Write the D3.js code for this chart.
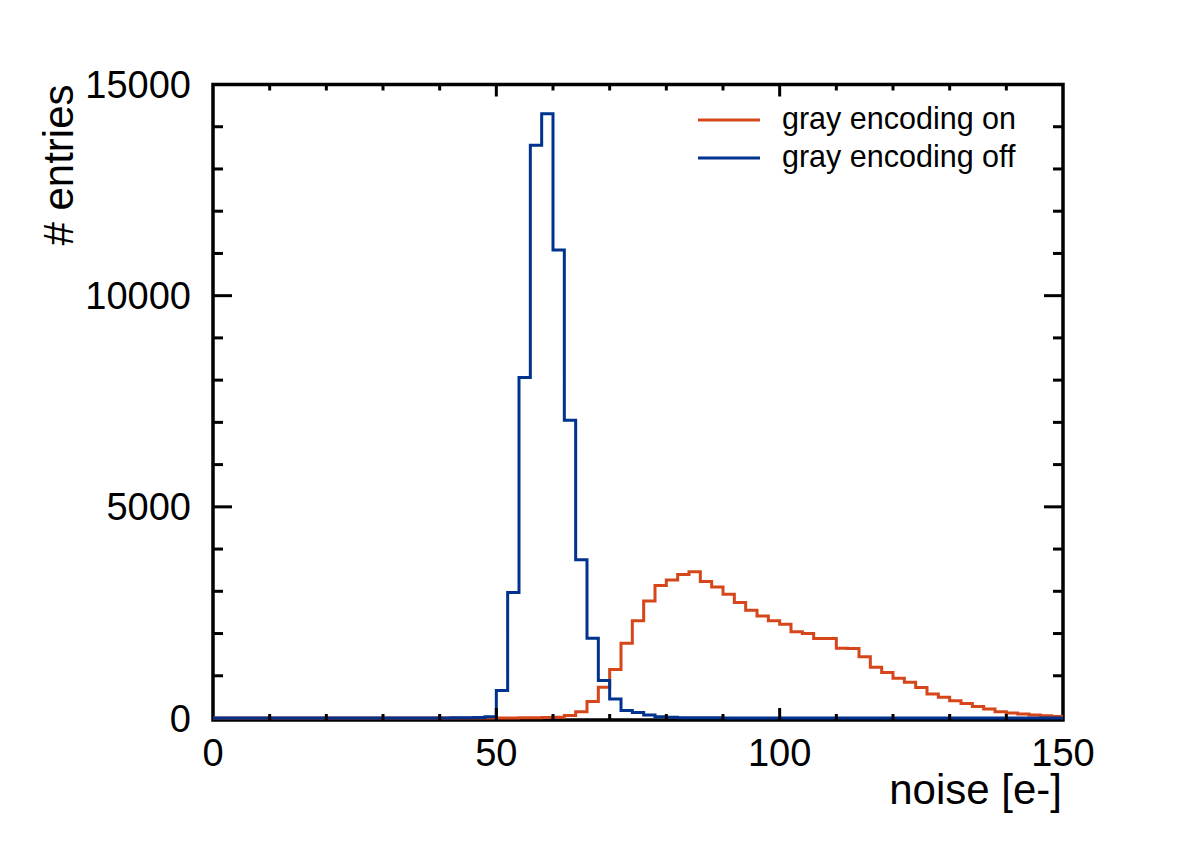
<!DOCTYPE html>
<html>
<head>
<meta charset="utf-8">
<script src="https://cdn.jsdelivr.net/npm/d3@7"></script>
<style>
  html, body { margin: 0; padding: 0; background: #fff; }
  svg { display: block; font-family: "Liberation Sans", Arial, Helvetica, sans-serif; }
</style>
</head>
<body>
<svg id="chart" width="1182" height="848"></svg>
<script>
// ---- data ----
const binLow = 0;       // first bin lower edge
const binWidth = 2;     // bin width in noise units
const seriesNames = ["gray encoding on", "gray encoding off"];
const grayOn = [
  0, 0, 0, 0, 0, 0, 0, 0, 0, 0,
  0, 0, 0, 0, 0, 0, 0, 0, 0, 0,
  0, 0, 0, 0, 0, 1, 2, 4, 8, 12,
  20, 60, 150, 390, 730, 1150, 1770, 2300, 2770, 3140,
  3270, 3400, 3465, 3230, 3100, 2930, 2735, 2550, 2415, 2300,
  2220, 2040, 2000, 1885, 1885, 1650, 1645, 1450, 1200, 1080,
  940, 845, 725, 570, 490, 410, 345, 275, 215, 150,
  120, 95, 70, 55, 35
];
const grayOff = [
  0, 0, 0, 0, 0, 0, 0, 0, 0, 0,
  0, 0, 0, 0, 0, 0, 0, 0, 0, 0,
  2, 3, 5, 10, 30, 650, 2970, 8060, 13560, 14310,
  11080, 7050, 3750, 1890, 890, 450, 175, 130, 70, 30,
  15, 8, 5, 4, 3, 2, 2, 1, 1, 1,
  0, 0, 0, 0, 0, 0, 0, 0, 0, 0,
  0, 0, 0, 0, 0, 0, 0, 0, 0, 0,
  0, 0, 0, 0, 0
];
const xMajorTicks = [0, 50, 100, 150];
const yMajorTicks = [0, 5000, 10000, 15000];
const colors = ["#d5461b", "#00338d"];

// ---- layout ----
const svg = d3.select("#chart");
const pLeft = 213, pRight = 1063, pTop = 84.5, pBottom = 720;
const x = d3.scaleLinear().domain([0, 150]).range([pLeft, pRight]);
const y = d3.scaleLinear().domain([0, 15000]).range([718, pTop]);

const tickFont = 38, titleFont = 42, legendFont = 30.5;

// frame
svg.append("rect")
  .attr("x", pLeft).attr("y", pTop)
  .attr("width", pRight - pLeft).attr("height", pBottom - pTop)
  .attr("fill", "none").attr("stroke", "#000").attr("stroke-width", 3.5);

// histograms
function histPoints(vals) {
  const pts = vals.map((v, i) => [binLow + i * binWidth, v]);
  pts.push([binLow + vals.length * binWidth, vals[vals.length - 1]]);
  return pts;
}
const line = d3.line()
  .x(d => x(d[0])).y(d => y(d[1]))
  .curve(d3.curveStepAfter);

[grayOn, grayOff].forEach((vals, k) => {
  svg.append("path")
    .attr("d", line(histPoints(vals)))
    .attr("fill", "none")
    .attr("stroke", colors[k])
    .attr("stroke-width", 3)
    .attr("stroke-linejoin", "miter");
});

// ticks (inward, all four sides)
const ticksG = svg.append("g").attr("stroke", "#000").attr("stroke-width", 3);
d3.range(0, 151, 10).forEach(v => {
  if (v === 0 || v === 150) return;
  const len = v % 50 === 0 ? 12 : 6;
  ticksG.append("line").attr("x1", x(v)).attr("x2", x(v)).attr("y1", pBottom).attr("y2", pBottom - len);
  ticksG.append("line").attr("x1", x(v)).attr("x2", x(v)).attr("y1", pTop).attr("y2", pTop + len);
});
d3.range(0, 15001, 1000).forEach(v => {
  if (v === 0 || v === 15000) return;
  const len = v % 5000 === 0 ? 19 : 10;
  ticksG.append("line").attr("x1", pLeft).attr("x2", pLeft + len).attr("y1", y(v)).attr("y2", y(v));
  ticksG.append("line").attr("x1", pRight).attr("x2", pRight - len).attr("y1", y(v)).attr("y2", y(v));
});

// tick labels
svg.append("g").selectAll("text").data(xMajorTicks).join("text")
  .attr("x", d => x(d)).attr("y", 766)
  .attr("text-anchor", "middle")
  .attr("font-size", tickFont)
  .text(d => d);
svg.append("g").selectAll("text").data(yMajorTicks).join("text")
  .attr("x", 191).attr("y", d => y(d) + 0.358 * tickFont)
  .attr("text-anchor", "end")
  .attr("font-size", tickFont)
  .text(d => d);

// axis titles
svg.append("text")
  .attr("x", 1062).attr("y", 804)
  .attr("text-anchor", "end")
  .attr("font-size", titleFont)
  .text("noise [e-]");
svg.append("text")
  .attr("transform", `translate(73, ${pTop}) rotate(-90)`)
  .attr("text-anchor", "end")
  .attr("font-size", titleFont)
  .text("# entries");

// legend
const legend = svg.append("g");
seriesNames.forEach((name, k) => {
  const ly = 120 + k * 38;
  legend.append("line")
    .attr("x1", 698).attr("x2", 760).attr("y1", ly).attr("y2", ly)
    .attr("stroke", colors[k]).attr("stroke-width", 3);
  legend.append("text")
    .attr("x", 782).attr("y", ly + 8.5)
    .attr("font-size", legendFont)
    .text(name);
});
</script>
</body>
</html>
